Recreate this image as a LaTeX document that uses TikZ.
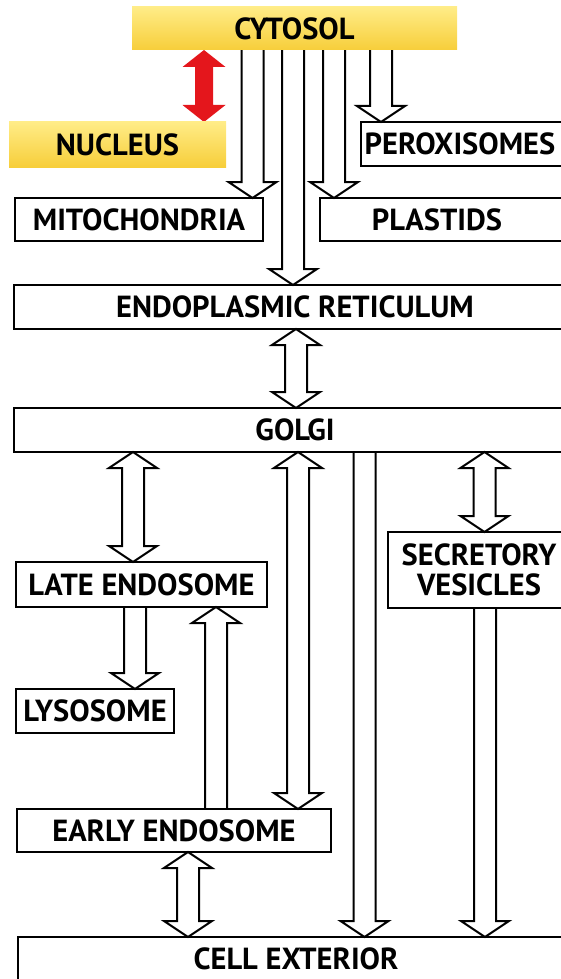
\documentclass[tikz,border=0pt]{standalone}
\usepackage{fontspec}
\setmainfont{PT Sans}
\usetikzlibrary{calc,backgrounds}

\definecolor{cellyellow}{RGB}{247,206,58}
\definecolor{celllight}{RGB}{255,236,135}
\definecolor{transportred}{RGB}{228,22,28}

% block arrow sizes (half shaft, half head, head length)
\newcommand{\shaftw}{11pt}
\newcommand{\headw}{24pt}
\newcommand{\headl}{16pt}

% one head, open at the start
\newcommand{\onearrow}[2]{%
  \fill[white] let \p1=(#1), \p2=(#2), \p3=($(\p2)!\headl!(\p1)$) in
    (\x1-\shaftw,\y1) -- (\x3-\shaftw,\y3) -- (\x3-\headw,\y3) -- (\p2)
    -- (\x3+\headw,\y3) -- (\x3+\shaftw,\y3) -- (\x1+\shaftw,\y1) -- cycle;
  \draw[blk] let \p1=(#1), \p2=(#2), \p3=($(\p2)!\headl!(\p1)$) in
    (\x1-\shaftw,\y1) -- (\x3-\shaftw,\y3) -- (\x3-\headw,\y3) -- (\p2)
    -- (\x3+\headw,\y3) -- (\x3+\shaftw,\y3) -- (\x1+\shaftw,\y1);}

% heads at both ends
\newcommand{\twoarrow}[3][blk]{%
  \path[#1] let \p1=(#2), \p2=(#3), \p3=($(\p2)!\headl!(\p1)$), \p4=($(\p1)!\headl!(\p2)$) in
    (\p1) -- (\x4+\headw,\y4) -- (\x4+\shaftw,\y4) -- (\x3+\shaftw,\y3) -- (\x3+\headw,\y3) -- (\p2)
    -- (\x3-\headw,\y3) -- (\x3-\shaftw,\y3) -- (\x4-\shaftw,\y4) -- (\x4-\headw,\y4) -- cycle;}

\begin{document}
\begin{tikzpicture}[x=1pt, y=-1pt,
  box/.style={rectangle, draw, line width=2pt, inner sep=0pt, outer sep=0pt, minimum height=44pt, align=center, font=\bfseries\fontsize{30.5}{30}\selectfont},
  yellowbox/.style={box, draw=none, top color=celllight, bottom color=cellyellow},
  blk/.style={draw, fill=white, line width=2pt, line join=miter}
]
\useasboundingbox (0,0) rectangle (561,979);
\clip (0,0) rectangle (561,979);

\node[yellowbox, minimum width=325pt, minimum height=43pt] (cyt) at (294.5,28.5) {CYTOSOL};
\node[yellowbox, minimum width=217pt, minimum height=45pt] (nuc) at (117.5,144.5) {NUCLEUS};
\node[box, minimum width=204pt] (perox) at (463,144) {\hspace*{-6pt}PEROXISOMES};
\node[box, minimum width=248pt, minimum height=43pt] (mito) at (139,219.5) {MITOCHONDRIA};
\node[box, minimum width=255pt, minimum height=43pt] (plast) at (447.5,219.5) {\hspace*{-21pt}PLASTIDS};
\node[box, minimum width=562pt] (er) at (295,307) {ENDOPLASMIC RETICULUM};
\node[box, minimum width=562pt] (golgi) at (295,430) {GOLGI};
\node[box, minimum width=182pt, minimum height=76pt] (secr) at (479,570) {SECRETORY\\VESICLES};
\node[box, minimum width=251pt, minimum height=45pt] (late) at (141.5,584.5) {LATE ENDOSOME};
\node[box, minimum width=158pt] (lyso) at (95,711) {LYSOSOME};
\node[box, minimum width=314pt, minimum height=43pt] (early) at (174,830.5) {EARLY ENDOSOME};
\node[box, minimum width=556pt] (ext) at (296,959) {CELL EXTERIOR};

\begin{pgfonlayer}{background}
% nucleus <-> cytosol
\begin{scope}
\renewcommand{\shaftw}{9pt}\renewcommand{\headw}{21.5pt}\renewcommand{\headl}{17pt}
\twoarrow[fill=transportred]{cyt.south -| 204,0}{nuc.north -| 204,0}
\end{scope}
% out of the cytosol
\onearrow{cyt.south -| 252.5,0}{mito.north -| 252.5,0}
\onearrow{cyt.south -| 293,0}{er.north -| 293,0}
\onearrow{cyt.south -| 334,0}{plast.north -| 334,0}
\onearrow{cyt.south -| 381,0}{perox.north -| 381,0}
% secretory and endocytic routes
\twoarrow{er.south -| 296,0}{golgi.north -| 296,0}
\twoarrow{golgi.south -| 133,0}{late.north -| 133,0}
\twoarrow{golgi.south -| 298,0}{early.north -| 298,0}
\onearrow{golgi.south -| 364.5,0}{ext.north -| 364.5,0}
\twoarrow{golgi.south -| 484.5,0}{secr.north -| 484.5,0}
\onearrow{secr.south -| 485,0}{ext.north -| 485,0}
\onearrow{late.south -| 135,0}{lyso.north -| 135,0}
\onearrow{early.north -| 216,0}{late.south -| 216,0}
\twoarrow{early.south -| 188,0}{ext.north -| 188,0}
\end{pgfonlayer}
\end{tikzpicture}
\end{document}
